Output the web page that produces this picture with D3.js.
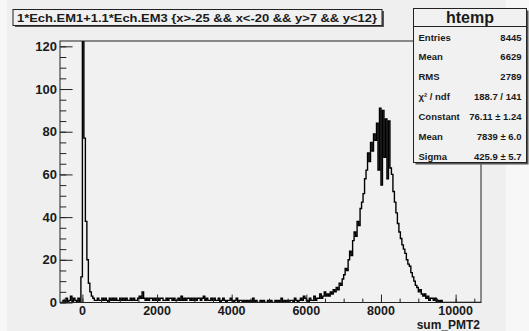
<!DOCTYPE html>
<html>
<head>
<meta charset="utf-8">
<script src="https://cdn.jsdelivr.net/npm/d3@7"></script>
<style>
  html, body { margin: 0; padding: 0; background: #f7f7f7; }
  svg { display: block; }
  text { font-family: "Liberation Sans", Arial, Helvetica, sans-serif; font-weight: bold; fill: #1a1a1a; }
</style>
</head>
<body>
<div id="chart"></div>
<script>
// ---- data ----
const title = "1*Ech.EM1+1.1*Ech.EM3 {x>-25 && x<-20 && y>7 && y<12}";
const xLabel = "sum_PMT2";
const binStart = -600;
const binWidth = 40;
// bins from -600 to -40
const countsLeft = [0,0,1,0,2,0,1,3,0,2,1,0,2,0,12];
// bins from 0 to 320 (pedestal spike)
const countsSpike = [130,77,38,20,9,5,3,2,1];
// bins from 360 to 5960 (flat background)
const countsFlat = [
  1,2,1,1,2,1,2,1,0,2,
  1,2,1,2,1,1,2,1,2,1,
  2,1,1,2,1,2,1,1,2,3,
  2,5,2,1,2,1,2,2,1,2,
  1,2,1,2,2,1,1,2,1,2,
  2,1,2,1,1,2,1,3,1,2,
  1,2,2,1,2,1,2,1,2,2,
  1,2,3,1,2,1,1,2,1,2,
  1,1,2,0,1,2,1,0,1,1,
  2,1,0,1,2,0,1,1,0,1,
  0,1,0,1,0,2,0,1,0,0,
  1,0,1,0,0,1,0,1,0,0,
  1,0,1,0,2,0,1,0,1,0,
  1,1,0,2,1,0,1,2,1,3,
  2
];
// bins from 6000 to 9680 (signal peak)
const countsPeak = [
  1,0,2,1,1,3,1,2,2,4,
  2,3,5,3,4,3,5,4,6,5,
  7,6,9,8,11,13,16,15,20,24,
  22,29,33,31,38,36,44,47,51,58,
  62,70,66,75,71,79,76,84,62,91,
  55,90,68,86,58,85,63,60,52,47,
  42,37,33,30,27,25,23,20,18,17,
  14,12,10,8,7,5,6,4,3,4,
  2,3,1,2,2,1,2,0,1,0,
  1,0,0
];
const xTicks = [0, 2000, 4000, 6000, 8000, 10000];
const yTicks = [0, 20, 40, 60, 80, 100, 120];
const xDomain = [-600, 10680];
const yDomain = [0, 122.5];
const statsName = "htemp";
const statsLabels = ["Entries", "Mean", "RMS", "\u03C7\u00B2 / ndf", "Constant", "Mean", "Sigma"];
const statsValues = ["8445", "6629", "2789", "188.7 / 141", "76.11 \u00B1 1.24", "7839 \u00B1 6.0", "425.9 \u00B1 5.7"];

// ---- layout ----
const W = 529, H = 331;
const frame = { left: 60, right: 481, top: 41, bottom: 302.5 };

const svg = d3.select("#chart").append("svg").attr("width", W).attr("height", H);

// pad background
svg.append("rect").attr("x", 7).attr("y", 0).attr("width", 499).attr("height", H).attr("fill", "#efefef");

const x = d3.scaleLinear().domain(xDomain).range([frame.left, frame.right]);
const y = d3.scaleLinear().domain(yDomain).range([frame.bottom, frame.top]);

// frame fill
svg.append("rect")
  .attr("x", frame.left).attr("y", frame.top)
  .attr("width", frame.right - frame.left).attr("height", frame.bottom - frame.top)
  .attr("fill", "#f1f1f1");

// clip
svg.append("clipPath").attr("id", "clip").append("rect")
  .attr("x", frame.left).attr("y", frame.top)
  .attr("width", frame.right - frame.left).attr("height", frame.bottom - frame.top);

// histogram
const counts = [].concat(countsLeft, countsSpike, countsFlat, countsPeak);
const pts = [[binStart, 0]];
counts.forEach((c, i) => {
  pts.push([binStart + i * binWidth, c]);
  pts.push([binStart + (i + 1) * binWidth, c]);
});
pts.push([binStart + counts.length * binWidth, 0]);
pts.push([xDomain[1], 0]);

const line = d3.line().x(d => x(d[0])).y(d => y(d[1]));
svg.append("path")
  .attr("clip-path", "url(#clip)")
  .attr("d", line(pts))
  .attr("fill", "none")
  .attr("stroke", "#000")
  .attr("stroke-width", 1.4);

// frame border
svg.append("rect")
  .attr("x", frame.left).attr("y", frame.top)
  .attr("width", frame.right - frame.left).attr("height", frame.bottom - frame.top)
  .attr("fill", "none").attr("stroke", "#222").attr("stroke-width", 1);

// y axis (ticks inside)
const yAxis = d3.axisRight(y).tickValues(yTicks).tickSize(12.6).tickFormat("");
const yMinor = d3.axisRight(y).tickValues(d3.range(0, 122, 5)).tickSize(6.3).tickFormat("");
svg.append("g").attr("transform", `translate(${frame.left},0)`).call(yMinor)
  .call(g => g.select(".domain").remove()).selectAll("line").attr("stroke", "#222");
svg.append("g").attr("transform", `translate(${frame.left},0)`).call(yAxis)
  .call(g => g.select(".domain").remove()).selectAll("line").attr("stroke", "#222");
svg.append("g").selectAll("text").data(yTicks).join("text")
  .attr("x", frame.left - 3).attr("y", d => y(d) + 4.5)
  .attr("text-anchor", "end").attr("font-size", 13).text(d => d);

// x axis (ticks inside)
const xAxis = d3.axisTop(x).tickValues(xTicks).tickSize(7.9).tickFormat("");
const xMinor = d3.axisTop(x).tickValues(d3.range(-500, 10680, 500)).tickSize(3.9).tickFormat("");
svg.append("g").attr("transform", `translate(0,${frame.bottom})`).call(xMinor)
  .call(g => g.select(".domain").remove()).selectAll("line").attr("stroke", "#222");
svg.append("g").attr("transform", `translate(0,${frame.bottom})`).call(xAxis)
  .call(g => g.select(".domain").remove()).selectAll("line").attr("stroke", "#222");
svg.append("g").selectAll("text").data(xTicks).join("text")
  .attr("x", d => x(d)).attr("y", 314.5)
  .attr("text-anchor", "middle").attr("font-size", 12.5).text(d => d);
svg.append("text").attr("x", 480).attr("y", 328.5).attr("text-anchor", "end")
  .attr("font-size", 12).text(xLabel);

// title box
svg.append("rect").attr("x", 15).attr("y", 11).attr("width", 369).attr("height", 16).attr("fill", "#555");
svg.append("rect").attr("x", 13).attr("y", 9.5).attr("width", 369).attr("height", 16)
  .attr("fill", "#f1f1f1").attr("stroke", "#222").attr("stroke-width", 1);
svg.append("text").attr("x", 17).attr("y", 21.5).attr("font-size", 11.5)
  .attr("textLength", 360).attr("lengthAdjust", "spacingAndGlyphs").text(title);

// stats box
const sb = { x: 413.5, y: 8.5, w: 113, h: 154 };
svg.append("rect").attr("x", sb.x + 2).attr("y", sb.y + 2).attr("width", sb.w).attr("height", sb.h).attr("fill", "#555");
svg.append("rect").attr("x", sb.x).attr("y", sb.y).attr("width", sb.w).attr("height", sb.h)
  .attr("fill", "#f1f1f1").attr("stroke", "#222").attr("stroke-width", 1);
svg.append("line").attr("x1", sb.x).attr("x2", sb.x + sb.w).attr("y1", 26.5).attr("y2", 26.5)
  .attr("stroke", "#222");
svg.append("text").attr("x", sb.x + sb.w / 2).attr("y", 23).attr("text-anchor", "middle")
  .attr("font-size", 16).text(statsName);
const rowY = d3.scaleLinear().domain([0, statsLabels.length - 1]).range([40.5, 160]);
svg.append("g").selectAll("text").data(statsLabels).join("text")
  .attr("x", sb.x + 5).attr("y", (d, i) => rowY(i)).attr("font-size", 9.5)
  .attr("fill", "#333").text(d => d);
svg.append("g").selectAll("text").data(statsValues).join("text")
  .attr("x", sb.x + sb.w - 5).attr("y", (d, i) => rowY(i)).attr("font-size", 9.5)
  .attr("text-anchor", "end").attr("fill", "#333").text(d => d);
</script>
</body>
</html>
